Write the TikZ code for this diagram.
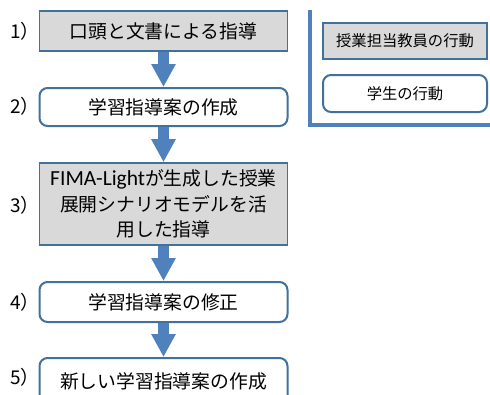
\documentclass[tikz,border=0pt]{standalone}
\usepackage{fontspec}
\setmainfont{Noto Sans CJK JP}
\newfontfamily\latinf{Carlito}
\usetikzlibrary{arrows.meta}
\definecolor{bblue}{HTML}{4F81BD}
\definecolor{dblue}{HTML}{41719C}
\definecolor{gfill}{HTML}{D9D9D9}
\tikzset{
  teacher/.style={draw=dblue, line width=1.6pt, fill=gfill, minimum width=248pt, inner sep=0pt, align=center, font=\fontsize{18.8}{25.5}\selectfont},
  student/.style={draw=dblue, line width=2pt, fill=white, rounded corners=8pt, minimum width=248pt, inner sep=0pt, align=center, font=\fontsize{18.8}{25.5}\selectfont},
  numlabel/.style={anchor=west, inner sep=0pt, font=\fontsize{19}{22}\selectfont},
  legteacher/.style={teacher, minimum width=164pt, minimum height=36pt, font=\fontsize{15.3}{18}\selectfont},
  legstudent/.style={student, minimum width=164pt, minimum height=37pt, font=\fontsize{15.3}{18}\selectfont},
  bigarrow/.style={draw=bblue, line width=11pt, -{Triangle[width=23pt,length=23pt]}},
  frameline/.style={draw=bblue, line width=3.5pt}
}
\begin{document}
\begin{tikzpicture}[x=1pt,y=1pt]
\useasboundingbox (0,0) rectangle (490,-394);
% main flow
\node[teacher, minimum height=40pt] (b1) at (163.5,-31) {口頭と文書による指導};
\node[student, minimum height=38pt] (b2) at (163.5,-107) {学習指導案の作成};
\node[teacher, minimum height=82pt] (b3) at (163.5,-204) {{\latinf\fontsize{21.5}{25.5}\selectfont FIMA-Light}が生成した授業\\展開シナリオモデルを活\\用した指導};
\node[student, minimum height=40pt] (b4) at (163.5,-302) {学習指導案の修正};
\node[student, minimum height=46pt] (b5) at (163.5,-381) {新しい学習指導案の作成};
% step labels
\node[numlabel] (l1) at (10,-31) {1）};
\node[numlabel] (l2) at (10,-106) {2）};
\node[numlabel] (l3) at (10,-205) {3）};
\node[numlabel] (l4) at (10,-302) {4）};
\node[numlabel] (l5) at (10,-377) {5）};
% arrows
\draw[bigarrow] (b1.south) -- (b2.north);
\draw[bigarrow] (b2.south) -- (b3.north);
\draw[bigarrow] (b3.south) -- (b4.north);
\draw[bigarrow] (b4.south) -- (b5.north);
% legend
\coordinate (ftop) at (310,-10);
\coordinate (fcorner) at (310,-125);
\coordinate (fright) at (492,-125);
\draw[frameline] (ftop) -- (fcorner) -- (fright);
\node[legteacher] (g1) at (405,-41) {授業担当教員の行動};
\node[legstudent] (g2) at (405,-93.5) {学生の行動};
\end{tikzpicture}
\end{document}
